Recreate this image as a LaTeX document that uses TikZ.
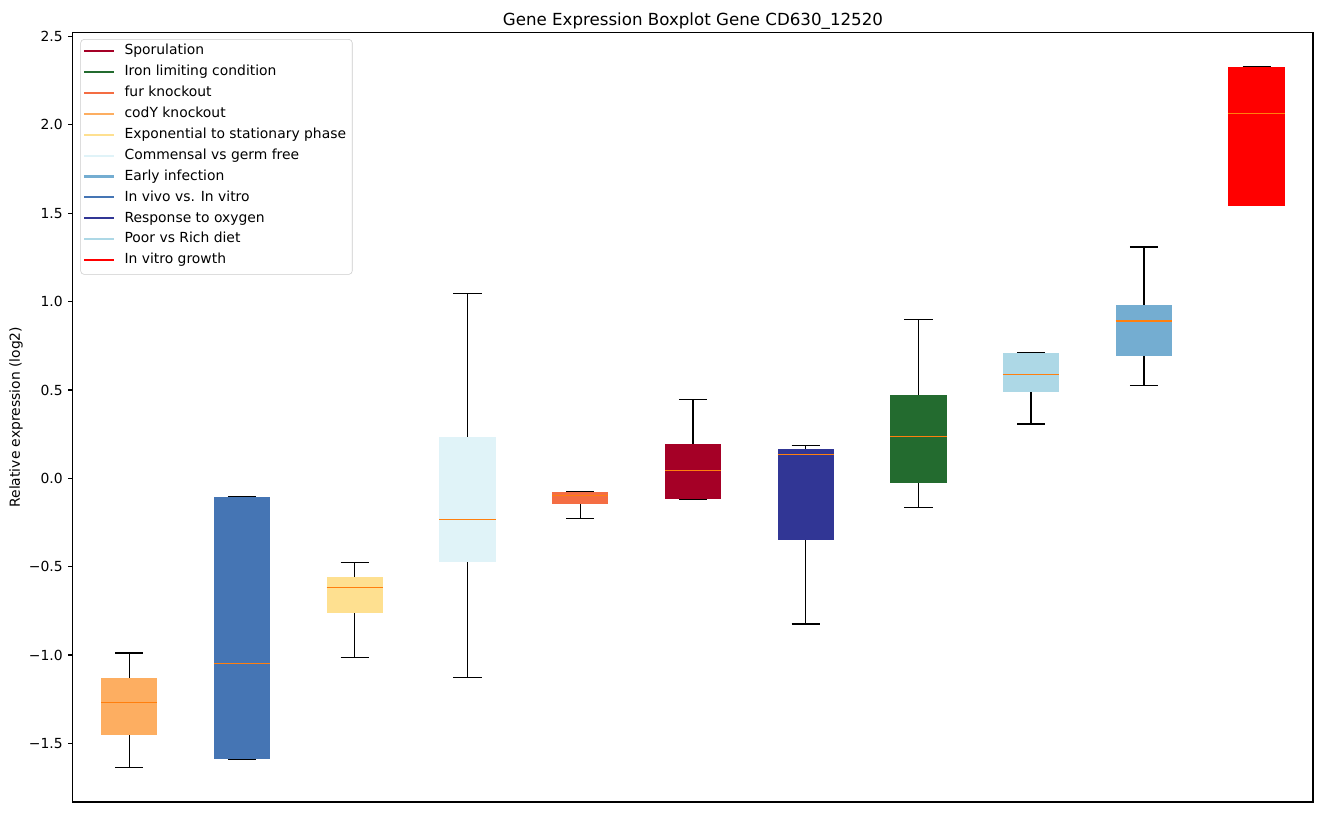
\documentclass[tikz,border=0pt]{standalone}
\usepackage{fontspec}
\setmainfont{DejaVu Sans}
\definecolor{sporcol}{HTML}{A50026}
\definecolor{ironcol}{HTML}{236B2F}
\definecolor{furcol}{HTML}{F46D43}
\definecolor{codycol}{HTML}{FDAE61}
\definecolor{expcol}{HTML}{FEE090}
\definecolor{commcol}{HTML}{E0F3F8}
\definecolor{earlycol}{HTML}{74ADD1}
\definecolor{vivocol}{HTML}{4575B4}
\definecolor{oxycol}{HTML}{313695}
\definecolor{dietcol}{HTML}{ADD8E6}
\definecolor{growcol}{HTML}{FF0000}
\definecolor{medcol}{HTML}{FF7F0E}
\tikzset{
  whisk/.style={black, line width=1pt},
  medline/.style={medcol, line width=0.9pt},
  ticklab/.style={anchor=east, inner sep=0pt, font=\fontsize{10}{12}\selectfont},
  legtext/.style={anchor=west, inner sep=0pt, text height=7.6pt, text depth=2.2pt,
    font=\fontsize{10}{12}\selectfont},
}
\begin{document}
\begin{tikzpicture}[x=81.17pt, y=127.22pt]
  \useasboundingbox (-0.1466,-1.889) rectangle (11.5798,2.707);
  \fill [white] (-0.1466,-1.889) rectangle (11.5798,2.707);
  % boxes: position/colour/low/q1/median/q3/high
  \foreach \p/\c/\lo/\qa/\me/\qc/\hi in {
      1/codycol/-1.636/-1.454/-1.268/-1.130/-0.989,
      2/vivocol/-1.589/-1.589/-1.047/-0.106/-0.106,
      3/expcol/-1.013/-0.764/-0.617/-0.559/-0.475,
      4/commcol/-1.126/-0.472/-0.232/0.234/1.047,
      5/furcol/-0.226/-0.144/-0.098/-0.078/-0.074,
      6/sporcol/-0.117/-0.117/0.045/0.194/0.447,
      7/oxycol/-0.825/-0.347/0.136/0.166/0.187,
      8/ironcol/-0.164/-0.025/0.238/0.471/0.900,
      9/dietcol/0.307/0.488/0.589/0.711/0.711,
      10/earlycol/0.526/0.692/0.890/0.981/1.309,
      11/growcol/1.543/1.543/2.066/2.328/2.328}
  {
    \draw [whisk] (\p,\lo) -- (\p,\qa) (\p,\qc) -- (\p,\hi);
    \draw [whisk] (\p-0.125,\lo) -- (\p+0.125,\lo) (\p-0.125,\hi) -- (\p+0.125,\hi);
    \fill [\c] (\p-0.25,\qa) rectangle (\p+0.25,\qc);
    \draw [medline] (\p-0.25,\me) -- (\p+0.25,\me);
  }
  % axes frame and ticks
  \draw [line width=0.8pt] (0.5,-1.832) rectangle (11.5,2.524);
  \foreach \v/\t [count=\i] in {2.5/2.5, 2.0/2.0, 1.5/1.5, 1.0/1.0, 0.5/0.5, 0.0/0.0,
      -0.5/−0.5, -1.0/−1.0, -1.5/−1.5}
    \draw [line width=0.8pt] (0.5,\v) -- ++(-3.5pt,0) node (t\i) [ticklab, xshift=-3.5pt] {\t};
  \node (ylab) [rotate=90, font=\fontsize{10}{12}\selectfont] at (-0.005,0.346) {Relative expression (log2)};
  \node (title) [anchor=base, font=\fontsize{12}{14}\selectfont] at (6,2.565) {Gene Expression Boxplot Gene CD630\_12520};
  % legend
  \draw [rounded corners=2.5pt, draw=black!20, fill=white, fill opacity=0.8] (0.569,1.154) rectangle (2.978,2.484);
  \foreach \c/\t [count=\k from 0] in {sporcol/Sporulation, ironcol/Iron limiting condition,
      furcol/fur knockout, codycol/codY knockout, expcol/Exponential to stationary phase,
      commcol/Commensal vs germ free, earlycol/Early infection, vivocol/In vivo vs. In vitro,
      oxycol/Response to oxygen, dietcol/Poor vs Rich diet, growcol/In vitro growth}
  {
    \draw [\c, line width=1.5pt] (0.5985,2.418-0.11828*\k) -- (0.8646,2.418-0.11828*\k);
    \node (l\k) [legtext] at (0.956,2.418-0.11828*\k) {\t};
  }
\end{tikzpicture}
\end{document}
